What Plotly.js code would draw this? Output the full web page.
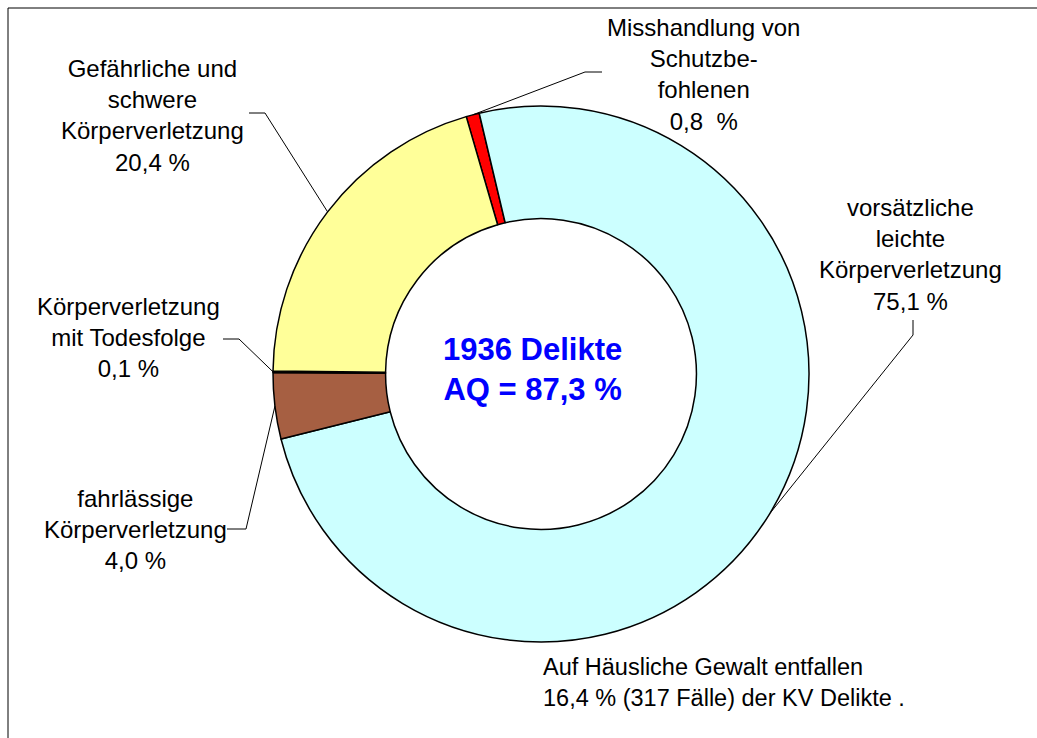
<!DOCTYPE html>
<html>
<head>
<meta charset="utf-8">
<script src="https://cdn.plot.ly/plotly-3.0.1.min.js"></script>
<style>html,body{margin:0;padding:0;background:#fff;}#chart{width:1037px;height:738px;}</style>
</head>
<body>
<div id="chart"></div>
<script>
// ---- data ----
const categories = [
  "Misshandlung von Schutzbefohlenen",
  "vorsätzliche leichte Körperverletzung",
  "fahrlässige Körperverletzung",
  "Körperverletzung mit Todesfolge",
  "Gefährliche und schwere Körperverletzung"
];
const values = [0.8, 75.1, 4.0, 0.1, 20.4];
const labelTexts = [
  "Misshandlung von<br>Schutzbe-<br>fohlenen<br>0,8  %",
  "vorsätzliche<br>leichte<br>Körperverletzung<br>75,1 %",
  "fahrlässige<br>Körperverletzung<br>4,0 %",
  "Körperverletzung<br>mit Todesfolge<br>0,1 %",
  "Gefährliche und<br>schwere<br>Körperverletzung<br>20,4 %"
];
const colors = ["#FF0000", "#CCFFFF", "#A65F42", "#800000", "#FFFF99"];
const centerText = "1936 Delikte<br>AQ = 87,3 %";
const noteText = "Auf Häusliche Gewalt entfallen<br>16,4 % (317 Fälle) der KV Delikte .";

// ---- layout geometry (pixels) ----
const W = 1037, H = 738;
const cx = 541, cy = 374, R = 268;
const rotation = -16.2;
const px = x => x / W;
const py = y => 1 - y / H;

// label positions and leader-line elbows (pixels)
const labelPos = [
  {x: 703, y: 74, elbow: [[602, 72], [585, 72]]},
  {x: 910, y: 255, elbow: [[913, 320], [913, 335]]},
  {x: 135, y: 529, elbow: [[227, 529], [246, 529]]},
  {x: 128, y: 338, elbow: [[223, 339], [239, 339]]},
  {x: 152, y: 115, elbow: [[249, 113], [265, 113]]}
];

// slice mid-angles from data
const total = values.reduce((a, b) => a + b, 0);
let acc = 0;
const midPts = values.map(v => {
  const a0 = rotation + acc / total * 360;
  acc += v;
  const a1 = rotation + acc / total * 360;
  const m = (a0 + a1) / 2 * Math.PI / 180;
  return [cx + R * Math.sin(m), cy - R * Math.cos(m)];
});

const shapes = [];
const line = (p, q) => shapes.push({
  type: "line", xref: "paper", yref: "paper",
  x0: px(p[0]), y0: py(p[1]), x1: px(q[0]), y1: py(q[1]),
  line: {color: "#000", width: 1}
});
labelPos.forEach((lp, i) => {
  line(lp.elbow[0], lp.elbow[1]);
  line(lp.elbow[1], midPts[i]);
});
// frame
line([8, 8], [W, 8]);
line([8, 8], [8, H]);

const font = {family: "Liberation Sans, Arial, sans-serif", size: 24, color: "#000"};
const annotations = labelPos.map((lp, i) => ({
  xref: "paper", yref: "paper", x: px(lp.x), y: py(lp.y),
  xanchor: "center", yanchor: "middle", align: "center",
  text: labelTexts[i], showarrow: false, font: font
}));
annotations.push({
  xref: "paper", yref: "paper", x: px(532), y: py(369),
  xanchor: "center", yanchor: "middle", align: "center",
  text: "<b>" + centerText.replace("<br>", "</b><br><b>") + "</b>",
  showarrow: false,
  font: {family: "Liberation Sans, Arial, sans-serif", size: 31, color: "#0000FF"}
});
annotations.push({
  xref: "paper", yref: "paper", x: px(541), y: py(682),
  xanchor: "left", yanchor: "middle", align: "left",
  text: noteText, showarrow: false,
  font: {family: "Liberation Sans, Arial, sans-serif", size: 23.5, color: "#000"}
});

const trace = {
  type: "pie",
  labels: categories,
  values: values,
  sort: false,
  direction: "clockwise",
  rotation: rotation,
  hole: 0.58,
  textinfo: "none",
  hoverinfo: "none",
  marker: {colors: colors, line: {color: "#000", width: 1.5}},
  domain: {x: [px(cx - R), px(cx + R)], y: [py(cy + R), py(cy - R)]},
  showlegend: false
};

Plotly.newPlot("chart", [trace], {
  width: W, height: H,
  margin: {l: 0, r: 0, t: 0, b: 0},
  paper_bgcolor: "#fff",
  showlegend: false,
  shapes: shapes,
  annotations: annotations
}, {staticPlot: true});
</script>
</body>
</html>
